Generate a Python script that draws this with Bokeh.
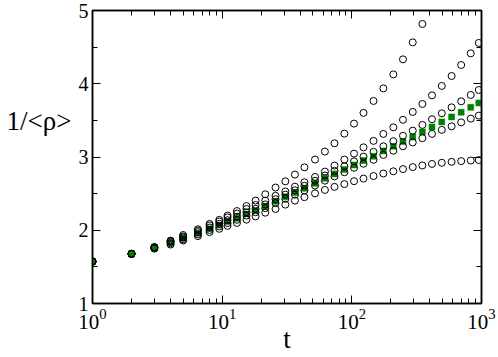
from bokeh.plotting import figure
from bokeh.models import FixedTicker, LogAxis, LinearAxis, Range1d, CustomJSTickFormatter
from bokeh.embed import file_html
from bokeh.resources import INLINE

nan = float("nan")

# time points (log-spaced samples)
t = [1, 2, 3, 4, 5, 6.5, 8, 9.5, 11, 13, 15.4, 18.1, 21.5, 25.8, 30.7, 36.4,
     43.1, 52, 62, 73.5, 87.6, 104, 123, 147, 175, 209, 248, 295, 350, 415,
     494, 588, 697, 826, 953]

# open-circle series (top to bottom at late times)
rho_a = [1.573, 1.678, 1.770, 1.858, 1.935, 2.014, 2.087, 2.142, 2.200, 2.262,
         2.330, 2.405, 2.491, 2.583, 2.668, 2.760, 2.859, 2.965, 3.074, 3.187,
         3.319, 3.456, 3.602, 3.765, 3.937, 4.128, 4.333, 4.565, 4.816, nan,
         nan, nan, nan, nan, nan]
rho_b = [1.573, 1.678, 1.768, 1.850, 1.915, 1.995, 2.065, 2.120, 2.175, 2.228,
         2.290, 2.345, 2.405, 2.470, 2.530, 2.595, 2.655, 2.728, 2.801, 2.883,
         2.965, 3.046, 3.132, 3.220, 3.315, 3.405, 3.508, 3.615, 3.724, 3.842,
         3.970, 4.106, 4.256, 4.415, 4.557]
rho_c = [1.573, 1.678, 1.765, 1.842, 1.902, 1.974, 2.037, 2.088, 2.138, 2.185,
         2.244, 2.293, 2.353, 2.424, 2.486, 2.546, 2.607, 2.676, 2.747, 2.810,
         2.873, 2.941, 3.005, 3.070, 3.146, 3.216, 3.290, 3.360, 3.438, 3.516,
         3.596, 3.678, 3.760, 3.847, 3.915]
rho_d = [1.573, 1.678, 1.755, 1.822, 1.878, 1.944, 2.003, 2.052, 2.098, 2.143,
         2.200, 2.246, 2.302, 2.370, 2.429, 2.486, 2.544, 2.610, 2.677, 2.735,
         2.792, 2.853, 2.908, 2.962, 3.028, 3.086, 3.146, 3.199, 3.257, 3.315,
         3.370, 3.419, 3.473, 3.524, 3.565]
rho_e = [1.573, 1.678, 1.750, 1.805, 1.860, 1.920, 1.975, 2.020, 2.060, 2.100,
         2.145, 2.190, 2.240, 2.290, 2.350, 2.405, 2.452, 2.503, 2.550, 2.592,
         2.630, 2.670, 2.705, 2.740, 2.775, 2.805, 2.835, 2.862, 2.885, 2.905,
         2.921, 2.934, 2.944, 2.952, 2.958]
# filled green squares
rho_g = [1.573, 1.678, 1.760, 1.832, 1.890, 1.959, 2.020, 2.070, 2.118, 2.164,
         2.222, 2.269, 2.327, 2.396, 2.456, 2.514, 2.573, 2.640, 2.709, 2.769,
         2.828, 2.892, 2.951, 3.010, 3.083, 3.146, 3.210, 3.274, 3.342, 3.411,
         3.479, 3.547, 3.610, 3.678, 3.738]

x_major = [1, 10, 100, 1000]
x_minor = [2, 3, 4, 5, 6, 7, 8, 9, 20, 30, 40, 50, 60, 70, 80, 90,
           200, 300, 400, 500, 600, 700, 800, 900]
y_major = [1, 2, 3, 4, 5]
y_minor = [1.5, 2.5, 3.5, 4.5]
x_title = "t"
y_title = "1/<ρ>"

FONT = "Liberation Serif"

p = figure(width=498, height=357, x_axis_type="log",
           x_range=Range1d(1, 1000), y_range=Range1d(1, 5),
           output_backend="svg", toolbar_location=None,
           min_border_left=92, min_border_right=17, min_border_top=10,
           min_border_bottom=54,
           x_axis_label=x_title,
           y_axis_label=y_title + "\n\u00a0\n\u00a0")
p.grid.visible = False
p.outline_line_color = "black"
p.outline_line_width = 1.5
p.background_fill_color = "white"
p.border_fill_color = "white"

xt = FixedTicker(ticks=x_major, minor_ticks=x_minor)
yt = FixedTicker(ticks=y_major, minor_ticks=y_minor)
blank = CustomJSTickFormatter(code="return ''")


def style(ax, show_labels):
    ax.axis_line_color = "black"
    ax.axis_line_width = 1.5
    ax.major_tick_in = 8
    ax.major_tick_out = 0
    ax.minor_tick_in = 5
    ax.minor_tick_out = 0
    ax.major_tick_line_color = "black"
    ax.minor_tick_line_color = "black"
    ax.major_tick_line_width = 1
    ax.minor_tick_line_width = 1
    ax.major_label_text_font = FONT
    ax.major_label_text_color = "black"
    ax.major_label_text_font_size = "20px"
    ax.axis_label_text_font = FONT
    ax.axis_label_text_font_style = "normal"
    ax.axis_label_text_color = "black"
    ax.axis_label_text_font_size = "27px"
    if show_labels:
        ax.major_label_standoff = 4
    else:
        ax.formatter = blank
        ax.major_label_standoff = 0


p.xaxis.ticker = xt
p.yaxis.ticker = yt
style(p.xaxis[0], True)
style(p.yaxis[0], True)
p.xaxis[0].major_label_text_font_size = "21px"
p.xaxis[0].major_label_standoff = 5
p.xaxis[0].axis_label_standoff = -8
p.yaxis[0].axis_label_standoff = 4
p.yaxis[0].axis_label_orientation = "horizontal"

top = LogAxis(ticker=xt)
style(top, False)
right = LinearAxis(ticker=yt)
style(right, False)
p.add_layout(top, "above")
p.add_layout(right, "right")

p.scatter(t, rho_g, marker="square", size=6, fill_color="#008000",
          line_color="#008000", line_width=0.5)
for series in (rho_a, rho_b, rho_c, rho_d, rho_e):
    p.scatter(t, series, marker="circle", size=7, fill_color=None,
              line_color="black", line_width=1)

open("out.html", "w").write(file_html(p, INLINE))
